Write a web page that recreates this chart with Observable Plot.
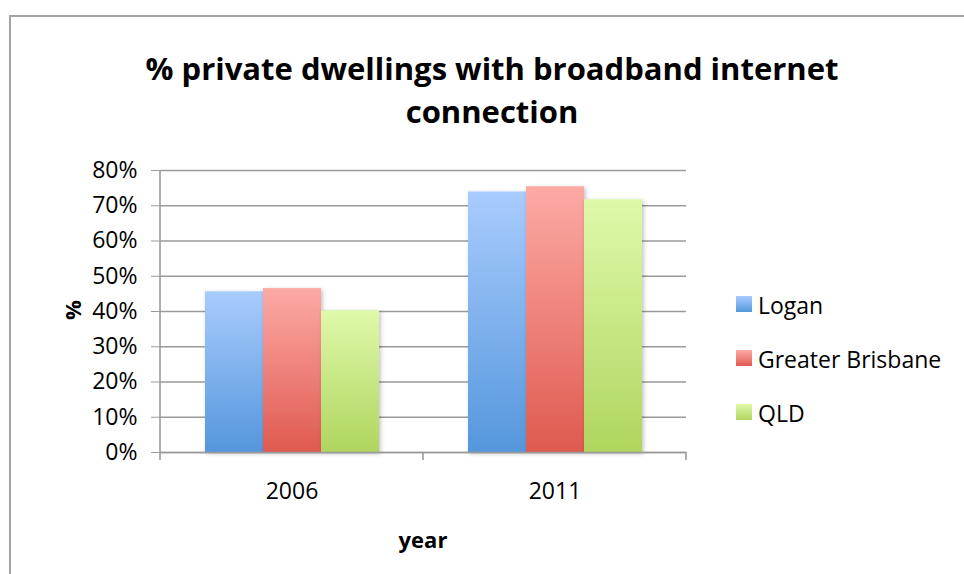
<!DOCTYPE html>
<html>
<head>
<meta charset="utf-8">
<script src="https://cdn.jsdelivr.net/npm/d3@7"></script>
<script src="https://cdn.jsdelivr.net/npm/@observablehq/plot@0.6"></script>
<style>
  html, body { margin: 0; padding: 0; background: #fff; overflow: hidden; }
  #page { position: relative; width: 964px; height: 574px; overflow: hidden; font-family: "Open Sans", sans-serif; color: #000; }
  #frame { position: absolute; left: 9px; top: 15px; width: 1200px; height: 800px; border: 2px solid #a3a3a3; box-sizing: border-box; }
  #title { position: absolute; left: 0; width: 984px; top: 47px; text-align: center; font-weight: bold; font-size: 31px; line-height: 43px; }
  #chart { position: absolute; left: 0; top: 150px; }
  #ylab { position: absolute; left: 72px; top: 310px; transform: translate(-50%, -50%) rotate(-90deg); font-weight: bold; font-size: 22px; white-space: nowrap; }
  #xlab { position: absolute; left: 423px; top: 524px; transform: translateX(-50%); font-weight: bold; font-size: 22px; white-space: nowrap; }
  #legend { position: absolute; left: 736px; top: 293px; }
  .item { position: relative; height: 54px; font-size: 23px; }
  .sw { position: absolute; left: 0; top: 3px; width: 16px; height: 16px; }
  .lt { position: absolute; left: 22px; top: -4px; white-space: nowrap; }
</style>
</head>
<body>
<div id="page">
  <div id="frame"></div>
  <div id="title">% private dwellings with broadband internet<br>connection</div>
  <div id="chart"></div>
  <div id="ylab">%</div>
  <div id="xlab">year</div>
  <div id="legend"></div>
</div>
<script>
// ---- data ----
const years = ["2006", "2011"];
const seriesNames = ["Logan", "Greater Brisbane", "QLD"];
const logan = [45.6, 73.9];
const greaterBrisbane = [46.5, 75.4];
const qld = [40.2, 71.7];
const yTicks = [0, 10, 20, 30, 40, 50, 60, 70, 80];
const colorsTop = ["#a9ccfe", "#fdaaa5", "#dff9aa"];
const colorsBottom = ["#5597dc", "#df5a50", "#b0d55f"];

const seriesValues = [logan, greaterBrisbane, qld];
const data = [];
years.forEach((yr, i) => {
  seriesNames.forEach((s, j) => {
    data.push({year: yr, series: s, value: seriesValues[j][i], fill: `url(#grad${j})`});
  });
});

const plot = Plot.plot({
  width: 700,
  height: 372,
  marginLeft: 160,
  marginRight: 14,
  marginTop: 20,
  marginBottom: 70,
  style: {fontFamily: "'Open Sans', sans-serif", color: "#000", background: "transparent", overflow: "visible"},
  fx: {domain: years, paddingInner: 0, paddingOuter: 0},
  x: {domain: seriesNames, paddingInner: 0, paddingOuter: 0.729, axis: null},
  y: {domain: [0, 80]},
  color: {type: "identity"},
  marks: [
    Plot.gridY(yTicks, {stroke: "#9a9a9a", strokeOpacity: 1, strokeWidth: 1.6}),
    Plot.barY(data, {fx: "year", x: "series", y: "value", fill: "fill"}),
    Plot.ruleY([0], {stroke: "#9a9a9a", strokeWidth: 1.6}),
    Plot.axisY({ticks: yTicks, tickFormat: d => d + "%", tickSize: 9, tickPadding: 14, fontSize: 23, stroke: "#9a9a9a", fill: "#000", label: null}),
    Plot.axisFx({anchor: "bottom", tickSize: 0, tickPadding: 30, fontSize: 23, fill: "#000", label: null})
  ]
});

// gradient defs and shadow filter
const svg = d3.select(plot);
const defs = svg.insert("defs", ":first-child");
seriesNames.forEach((s, j) => {
  const g = defs.append("linearGradient").attr("id", `grad${j}`).attr("x1", 0).attr("y1", 0).attr("x2", 0).attr("y2", 1);
  g.append("stop").attr("offset", "0%").attr("stop-color", colorsTop[j]);
  g.append("stop").attr("offset", "100%").attr("stop-color", colorsBottom[j]);
});
const f = defs.append("filter").attr("id", "shadow").attr("x", "-20%").attr("y", "-20%").attr("width", "140%").attr("height", "140%");
f.append("feDropShadow").attr("dx", 1.5).attr("dy", 1.5).attr("stdDeviation", 2).attr("flood-color", "#000").attr("flood-opacity", 0.25);
svg.selectAll("rect").filter(function() { return /url\(#grad/.test(this.getAttribute("fill") || ""); }).attr("filter", "url(#shadow)");

// y-axis line and category boundary ticks, placed with the library's scales
const fxS = plot.scale("fx");
const yS = plot.scale("y");
const y0 = yS.apply(0), yTop = yS.apply(80);
const left = fxS.apply(years[0]);
const bounds = years.map(y => fxS.apply(y)).concat([fxS.apply(years[years.length - 1]) + fxS.bandwidth]);
const axisG = svg.append("g").attr("stroke", "#9a9a9a").attr("stroke-width", 1.6);
axisG.append("line").attr("x1", left).attr("x2", left).attr("y1", yTop).attr("y2", y0);
bounds.forEach(b => axisG.append("line").attr("x1", b).attr("x2", b).attr("y1", y0).attr("y2", y0 + 8));

document.getElementById("chart").appendChild(plot);

// legend
const legend = d3.select("#legend");
seriesNames.forEach((s, j) => {
  const it = legend.append("div").attr("class", "item");
  it.append("div").attr("class", "sw").style("background", `linear-gradient(${colorsTop[j]}, ${colorsBottom[j]})`);
  it.append("div").attr("class", "lt").text(s);
});
</script>
</body>
</html>
